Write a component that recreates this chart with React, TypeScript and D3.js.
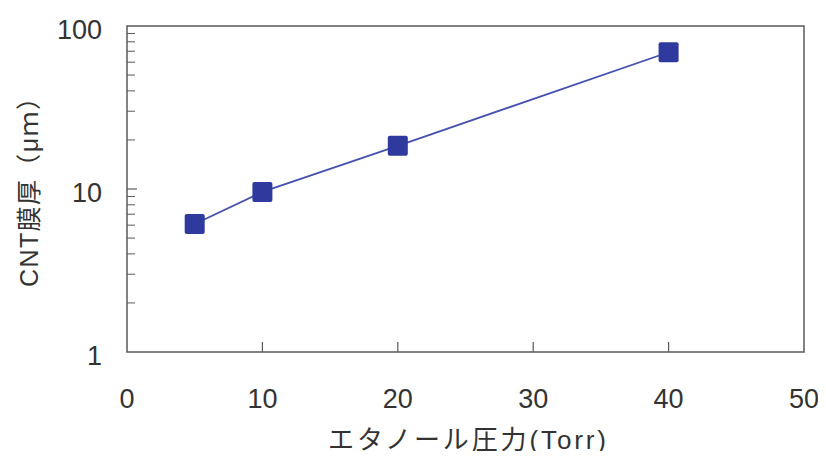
import React from "react";
import * as d3 from "d3";

// エタノール圧力 (Torr) と CNT 膜厚 (μm)
const pressures = [5, 10, 20, 40];
const thickness = [6.1, 9.6, 18.4, 69];
const xTicks = [0, 10, 20, 30, 40, 50];
const yTicks = [1, 10, 100];

const W = 826;
const H = 459;
const M = { left: 127, right: 22, top: 26, bottom: 107 };

export default function App() {
  const x = d3.scaleLinear().domain([0, 50]).range([M.left, W - M.right]);
  const y = d3.scaleLog().domain([1, 100]).range([H - M.bottom, M.top]);

  const minor: number[] = [];
  for (const d of [1, 10]) for (let k = 2; k <= 9; k++) minor.push(d * k);

  const line = d3
    .line<number>()
    .x((_, i) => x(pressures[i]))
    .y((v) => y(v));

  const axisColor = "#5a5a5a";
  const textColor = "#333";
  const font = "Liberation Sans, Arial, 'Noto Sans CJK JP', sans-serif";
  const ms = 20;

  return (
    <div style={{ margin: -8 }}>
      <svg width={W} height={H} style={{ display: "block", background: "#fff" }}>
        <rect
          x={M.left}
          y={M.top}
          width={W - M.right - M.left}
          height={H - M.bottom - M.top}
          fill="none"
          stroke={axisColor}
          strokeWidth={1.5}
        />
        {xTicks.slice(1, -1).map((t) => (
          <line key={"xt" + t} x1={x(t)} x2={x(t)} y1={y(1)} y2={y(1) - 10} stroke={axisColor} strokeWidth={1.2} />
        ))}
        {yTicks.slice(1, -1).map((t) => (
          <line key={"yt" + t} x1={M.left} x2={M.left + 10} y1={y(t)} y2={y(t)} stroke={axisColor} strokeWidth={1.2} />
        ))}
        {minor.map((t) => (
          <line key={"ym" + t} x1={M.left} x2={M.left + 8} y1={y(t)} y2={y(t)} stroke={axisColor} strokeWidth={1} />
        ))}
        {xTicks.map((t) => (
          <text key={"xl" + t} x={x(t)} y={408} textAnchor="middle" fontSize={27} fill={textColor} fontFamily={font}>
            {t}
          </text>
        ))}
        {yTicks.map((t) => (
          <text key={"yl" + t} x={102} y={y(t) + 13} textAnchor="end" fontSize={27} fill={textColor} fontFamily={font}>
            {t}
          </text>
        ))}
        <text
          x={467}
          y={449}
          textAnchor="middle"
          fontSize={26}
          fill={textColor}
          fontFamily={font}
          textLength={278}
          lengthAdjust="spacing"
        >
          エタノール圧力(Torr)
        </text>
        <text
          transform="translate(38, 186) rotate(-90)"
          textAnchor="middle"
          fontSize={25}
          fill={textColor}
          fontFamily={font}
          textLength={202}
          lengthAdjust="spacing"
        >
          CNT膜厚（μｍ）
        </text>
        <path d={line(thickness) || ""} fill="none" stroke="#4650b0" strokeWidth={1.8} />
        {thickness.map((v, i) => (
          <rect
            key={"m" + i}
            x={x(pressures[i]) - ms / 2}
            y={y(v) - ms / 2}
            width={ms}
            height={ms}
            rx={2}
            fill="#2f3a9e"
          />
        ))}
      </svg>
    </div>
  );
}
